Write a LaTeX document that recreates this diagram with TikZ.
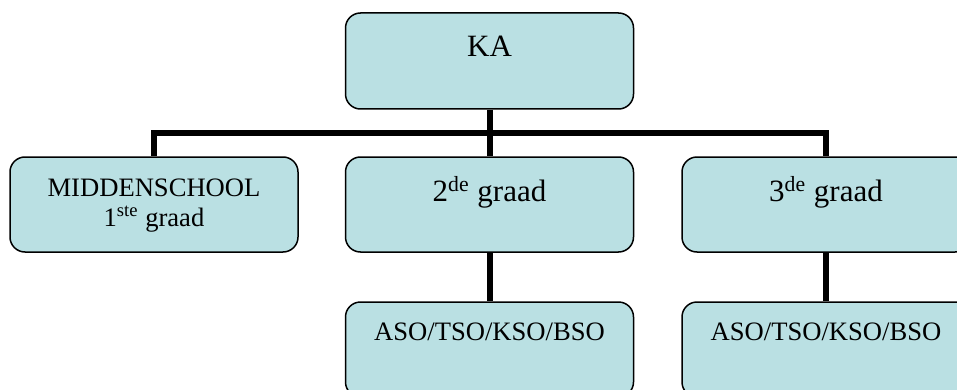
\documentclass[tikz,border=0pt]{standalone}
\usepackage{fontspec}
\setmainfont{Liberation Serif}
\usepackage{tikz}
\definecolor{boxfill}{HTML}{BAE0E3}
\definecolor{edge}{HTML}{000000}
\tikzset{
  unit/.style={draw=edge, fill=boxfill, line width=0.75pt, rounded corners=7.5pt,
    minimum width=144pt, inner xsep=2pt, inner ysep=0pt},
  bigbox/.style={unit, font=\fontsize{15.5}{18}\selectfont, text height=22.3pt, text depth=25.2pt},
  smallbox/.style={unit, font=\fontsize{13.3}{15}\selectfont, text height=19.3pt, text depth=28.2pt, align=center},
  tie/.style={line width=3pt, draw=edge, line join=miter}
}

\begin{document}
\begin{tikzpicture}[x=0.5pt,y=-0.5pt]
  \useasboundingbox (0,0) rectangle (957,390);
  % boxes
  \node[bigbox, text height=22pt, text depth=26pt] (ka) at (489.5,61) {KA};
  \node[smallbox, text height=34.85pt, text depth=12.65pt] (mid) at (154,204.5) {MIDDENSCHOOL\\1\textsuperscript{ste} graad};
  \node[bigbox] (gr2) at (489.5,204.5) {2\textsuperscript{de} graad};
  \node[bigbox] (gr3) at (826,204.5) {3\textsuperscript{de} graad};
  \node[smallbox] (aso2) at (489.5,349.5) {ASO/TSO/KSO/BSO};
  \node[smallbox] (aso3) at (826,349.5) {ASO/TSO/KSO/BSO};
  \coordinate (bus) at (489.5,133);
  % lines
  \draw[tie] (ka) -- (gr2);
  \draw[tie] (mid.north) |- (bus) -| (gr3.north);
  \draw[tie] (gr2) -- (aso2);
  \draw[tie] (gr3) -- (aso3);
\end{tikzpicture}
\end{document}
